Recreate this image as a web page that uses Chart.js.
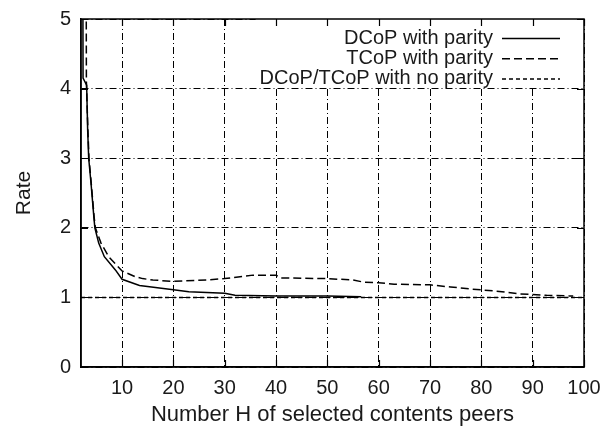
<!DOCTYPE html>
<html>
<head>
<meta charset="utf-8">
<script src="https://cdn.jsdelivr.net/npm/chart.js@4.4.1/dist/chart.umd.min.js"></script>
<style>
    html, body { margin: 0; padding: 0; background: #fff; }
</style>
</head>
<body>
<canvas id="rateChart" width="603" height="427"></canvas>
<script>
    // values
    const xTicks = [10, 20, 30, 40, 50, 60, 70, 80, 90, 100];
    const yTicks = [0, 1, 2, 3, 4, 5];

    const dcopH    = [2.35, 2.4, 3.1, 3.3, 3.5, 3.95, 4.5, 4.7, 5.45, 6.55, 8.7, 10, 13.4, 20, 23, 30, 32, 40, 50, 56.6];
    const dcopRate = [6, 4.15, 4.05, 3.4, 3.0, 2.64, 2.16, 2.0, 1.78, 1.585, 1.395, 1.26, 1.17, 1.11, 1.08, 1.06, 1.03, 1.02, 1.02, 1.01];

    const tcopH    = [3.0, 3.05, 3.3, 3.55, 4.0, 4.55, 4.8, 5.9, 7.4, 10, 12.5, 14, 16, 20, 26.5, 30, 35.5, 40, 41, 50, 55, 57, 60, 63, 70, 74, 78, 83, 87.5, 92.7, 97.9];
    const tcopRate = [6, 4.1, 3.5, 3.0, 2.64, 2.16, 2.0, 1.78, 1.585, 1.38, 1.3, 1.27, 1.25, 1.23, 1.25, 1.27, 1.32, 1.32, 1.28, 1.27, 1.25, 1.22, 1.21, 1.19, 1.18, 1.15, 1.12, 1.09, 1.05, 1.03, 1.02];

    const noParityH    = [2, 100];
    const noParityRate = [1, 1];

    const legendLabels = ['DCoP with parity', 'TCoP with parity', 'DCoP/TCoP with no parity'];
    const legendDashes = [[], [8, 4], [4, 3]];

    const fontFamily = '"Liberation Sans", Arial, sans-serif';

    const toPoints = function(xs, ys) {
        return xs.map(function(x, i) { return {x: x, y: ys[i]}; });
    };

    // frame, inner ticks and gnuplot-like legend
    const framePlugin = {
        id: 'frame',
        beforeDatasetsDraw: function(chart) {
            const ctx = chart.ctx, a = chart.chartArea;
            ctx.save();
            ctx.font = '20px ' + fontFamily;
            const w = Math.max.apply(null, legendLabels.map(function(t) { return ctx.measureText(t).width; }));
            const left = 493 - w - 4;
            ctx.fillStyle = '#fff';
            ctx.fillRect(left, a.top, a.right - left, 67);
            ctx.restore();
        },
        afterDatasetsDraw: function(chart) {
            const ctx = chart.ctx, a = chart.chartArea;
            const sx = chart.scales.x, sy = chart.scales.y;
            ctx.save();
            ctx.strokeStyle = '#000';
            ctx.lineWidth = 1.5;
            ctx.setLineDash([]);
            ctx.strokeRect(a.left, a.top, a.right - a.left, a.bottom - a.top);

            ctx.lineWidth = 1.2;
            ctx.beginPath();
            xTicks.forEach(function(v) {
                const px = Math.round(sx.getPixelForValue(v)) + 0.5;
                ctx.moveTo(px, a.bottom); ctx.lineTo(px, a.bottom - 7);
                ctx.moveTo(px, a.top); ctx.lineTo(px, a.top + 7);
            });
            yTicks.forEach(function(v) {
                const py = Math.round(sy.getPixelForValue(v)) + 0.5;
                ctx.moveTo(a.left, py); ctx.lineTo(a.left + 7, py);
                ctx.moveTo(a.right, py); ctx.lineTo(a.right - 7, py);
            });
            ctx.stroke();

            //legend rows
            ctx.font = '20px ' + fontFamily;
            ctx.fillStyle = '#1a1a1a';
            ctx.textAlign = 'right';
            ctx.textBaseline = 'middle';
            legendLabels.forEach(function(label, i) {
                const y = a.top + 19 + i * 20.3;
                ctx.fillText(label, 493, y);
                ctx.setLineDash(legendDashes[i]);
                ctx.lineWidth = 1.5;
                ctx.beginPath();
                ctx.moveTo(502, y + 0.5);
                ctx.lineTo(560, y + 0.5);
                ctx.stroke();
            });
            ctx.restore();
        }
    };

    const buildChart = function() {
        const lineStyle = {
            borderColor: '#000',
            borderWidth: 1.5,
            pointRadius: 0,
            fill: false,
            tension: 0
        };

        new Chart(document.getElementById('rateChart'), {
            type: 'scatter',
            data: {
                datasets: [
                    Object.assign({label: legendLabels[0], data: toPoints(dcopH, dcopRate), showLine: true}, lineStyle),
                    Object.assign({label: legendLabels[1], data: toPoints(tcopH, tcopRate), showLine: true, borderDash: legendDashes[1]}, lineStyle),
                    Object.assign({label: legendLabels[2], data: toPoints(noParityH, noParityRate), showLine: true, borderDash: legendDashes[2]}, lineStyle)
                ]
            },
            options: {
                responsive: false,
                animation: false,
                layout: { padding: { left: 0, right: 19, top: 19, bottom: 0 } },
                plugins: {
                    legend: { display: false },
                    tooltip: { enabled: false }
                },
                scales: {
                    x: {
                        type: 'linear',
                        min: 2,
                        max: 100,
                        afterBuildTicks: function(scale) {
                            scale.ticks = xTicks.map(function(v) { return {value: v}; });
                        },
                        afterFit: function(scale) {
                            scale.height = 60;
                            scale.paddingLeft = 0;
                            scale.paddingRight = 0;
                        },
                        grid: { color: '#000', lineWidth: 1, drawTicks: false },
                        border: { color: '#000', width: 1.5, dash: [7, 3, 1, 3] },
                        ticks: { color: '#1a1a1a', padding: 9, font: { family: fontFamily, size: 20 }, maxRotation: 0 },
                        title: {
                            display: true,
                            text: 'Number H of selected contents peers',
                            color: '#1a1a1a',
                            font: { family: fontFamily, size: 22, lineHeight: 1 },
                            padding: { top: 0, bottom: 1 }
                        }
                    },
                    y: {
                        min: 0,
                        max: 5,
                        afterBuildTicks: function(scale) {
                            scale.ticks = yTicks.map(function(v) { return {value: v}; });
                        },
                        afterFit: function(scale) {
                            scale.width = 81;
                            scale.paddingTop = 0;
                            scale.paddingBottom = 0;
                        },
                        grid: { color: '#000', lineWidth: 1, drawTicks: false },
                        border: { color: '#000', width: 1.5, dash: [7, 3, 1, 3] },
                        ticks: { color: '#1a1a1a', padding: 10, font: { family: fontFamily, size: 20 } },
                        title: {
                            display: true,
                            text: 'Rate',
                            color: '#1a1a1a',
                            font: { family: fontFamily, size: 21 },
                            padding: { top: 12, bottom: 0 }
                        }
                    }
                }
            },
            plugins: [framePlugin]
        });
    };

    buildChart();
</script>
</body>
</html>
